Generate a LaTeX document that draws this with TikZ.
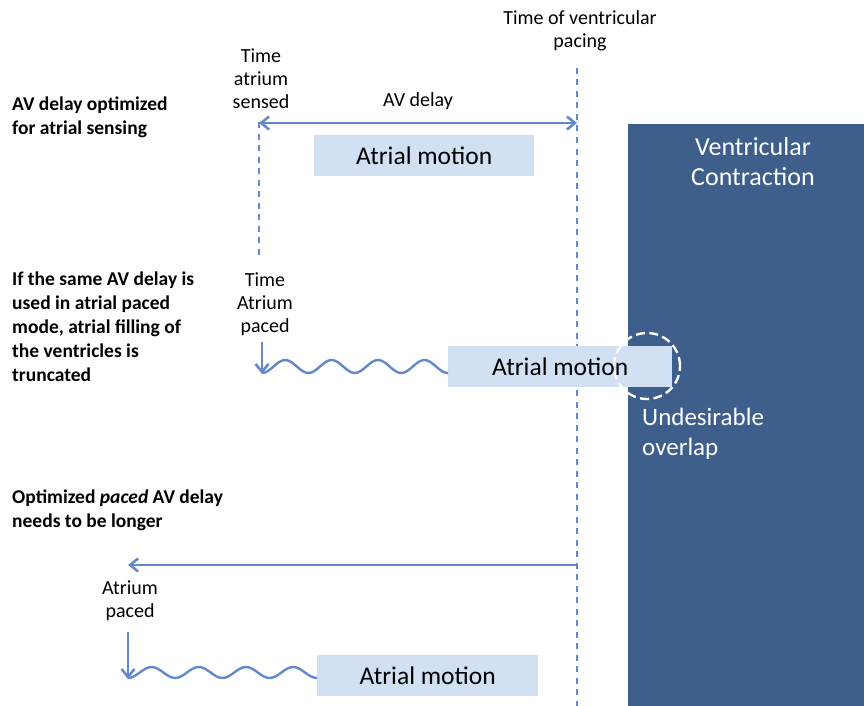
\documentclass[tikz,border=0pt]{standalone}
\usepackage{fontspec}
\setmainfont{Carlito}
\usetikzlibrary{arrows.meta}
\definecolor{ventblue}{RGB}{62,94,140}
\definecolor{lineblue}{RGB}{100,137,203}
\definecolor{boxfill}{RGB}{209,224,243}
\tikzset{
  motionbox/.style={fill=boxfill, minimum width=220pt, minimum height=41pt, inner sep=0pt},
  motiontext/.style={font=\fontsize{25.5}{28}\selectfont, inner sep=0pt},
  lbl/.style={align=center, font=\fontsize{20}{23}\selectfont, inner sep=0pt},
  boldlbl/.style={align=left, anchor=west, font=\bfseries\fontsize{19.5}{24}\selectfont, inner sep=0pt},
  tline/.style={lineblue, line width=1.8pt, dash pattern=on 6pt off 5.5pt},
  arr/.style={lineblue, line width=2.6pt, -{Straight Barb[length=8pt,width=13pt]}},
  darr/.style={lineblue, line width=2.6pt, {Straight Barb[length=8pt,width=13pt]}-{Straight Barb[length=8pt,width=13pt]}},
  wave/.style={lineblue, line width=2.4pt, line join=round},
}
\begin{document}
\begin{tikzpicture}[x=1pt,y=-1pt]
\useasboundingbox (0,0) rectangle (864,706);
% ventricular contraction block
\node[fill=ventblue, minimum width=236pt, minimum height=582pt, inner sep=0pt, anchor=north west] (vent) at (628,124) {};
\node[lbl, text=white, font=\fontsize{26}{30}\selectfont] (ventlbl) at (753,162) {Ventricular\\Contraction};
% time of ventricular pacing
\node[lbl] (vpace) at (580,31) {Time of ventricular\\pacing};
\coordinate (vtop) at (577,68);
\coordinate (vbot) at (577,706);
\draw[tline] (vtop) -- (vbot);
% row 1
\node[boldlbl] (row1) at (12,117) {AV delay optimized\\for atrial sensing};
\node[lbl] (tsens) at (261,79) {Time\\atrium\\sensed};
\coordinate (stop) at (259,122);
\coordinate (sbot) at (259,258);
\draw[tline] (stop) -- (sbot);
\node[lbl] (avd) at (418,101) {AV delay};
\coordinate (a1l) at (259,123);
\coordinate (a1r) at (577,123);
\draw[darr] (a1l) -- (a1r);
\node[motionbox, anchor=north west] (box1) at (314,135) {};
\node[motiontext] (txt1) at (box1.center) {Atrial motion};
% row 2
\node[boldlbl] (row2) at (12,327) {If the same AV delay is\\used in atrial paced\\mode, atrial filling of\\the ventricles is\\truncated};
\node[lbl] (tpace) at (265,304) {Time\\Atrium\\paced};
\coordinate (p2top) at (262,342);
\coordinate (p2tip) at (262,374);
\draw[arr] (p2top) -- (p2tip);
\node[motionbox, anchor=north west, minimum width=224pt] (box2) at (448,346) {};
\coordinate (w2s) at (262,373);
\draw[wave] (w2s)
  \foreach \i in {1,...,4} { cos ++(11.6,-6.5) sin ++(11.6,-6.5) cos ++(11.6,6.5) sin ++(11.6,6.5) }
  -- (box2.west |- w2s);
\node[draw=white, line width=2.4pt, dash pattern=on 9pt off 4.5pt, circle, minimum size=66pt, inner sep=0pt] (overlap) at (647,366) {};
\node[motiontext] (txt2) at (box2.center) {Atrial motion};
\node[lbl, text=white, align=left, anchor=west, font=\fontsize{25}{30}\selectfont] (undes) at (642,434) {Undesirable\\overlap};
% row 3
\node[boldlbl] (row3) at (12,510) {Optimized \textit{paced} AV delay\\needs to be longer};
\coordinate (a3r) at (577,565);
\coordinate (a3l) at (128,565);
\draw[arr] (a3r) -- (a3l);
\node[lbl] (apace) at (130,601) {Atrium\\paced};
\coordinate (p3top) at (128,632);
\coordinate (p3tip) at (128,679);
\draw[arr] (p3top) -- (p3tip);
\node[motionbox, anchor=north west, minimum width=221pt] (box3) at (317,655) {};
\node[motiontext] (txt3) at (box3.center) {Atrial motion};
\coordinate (w3s) at (128,678);
\draw[wave] (w3s)
  \foreach \i in {1,...,4} { cos ++(11.8,-5.5) sin ++(11.8,-5.5) cos ++(11.8,5.5) sin ++(11.8,5.5) }
  -- (box3.west |- w3s);
\end{tikzpicture}
\end{document}
